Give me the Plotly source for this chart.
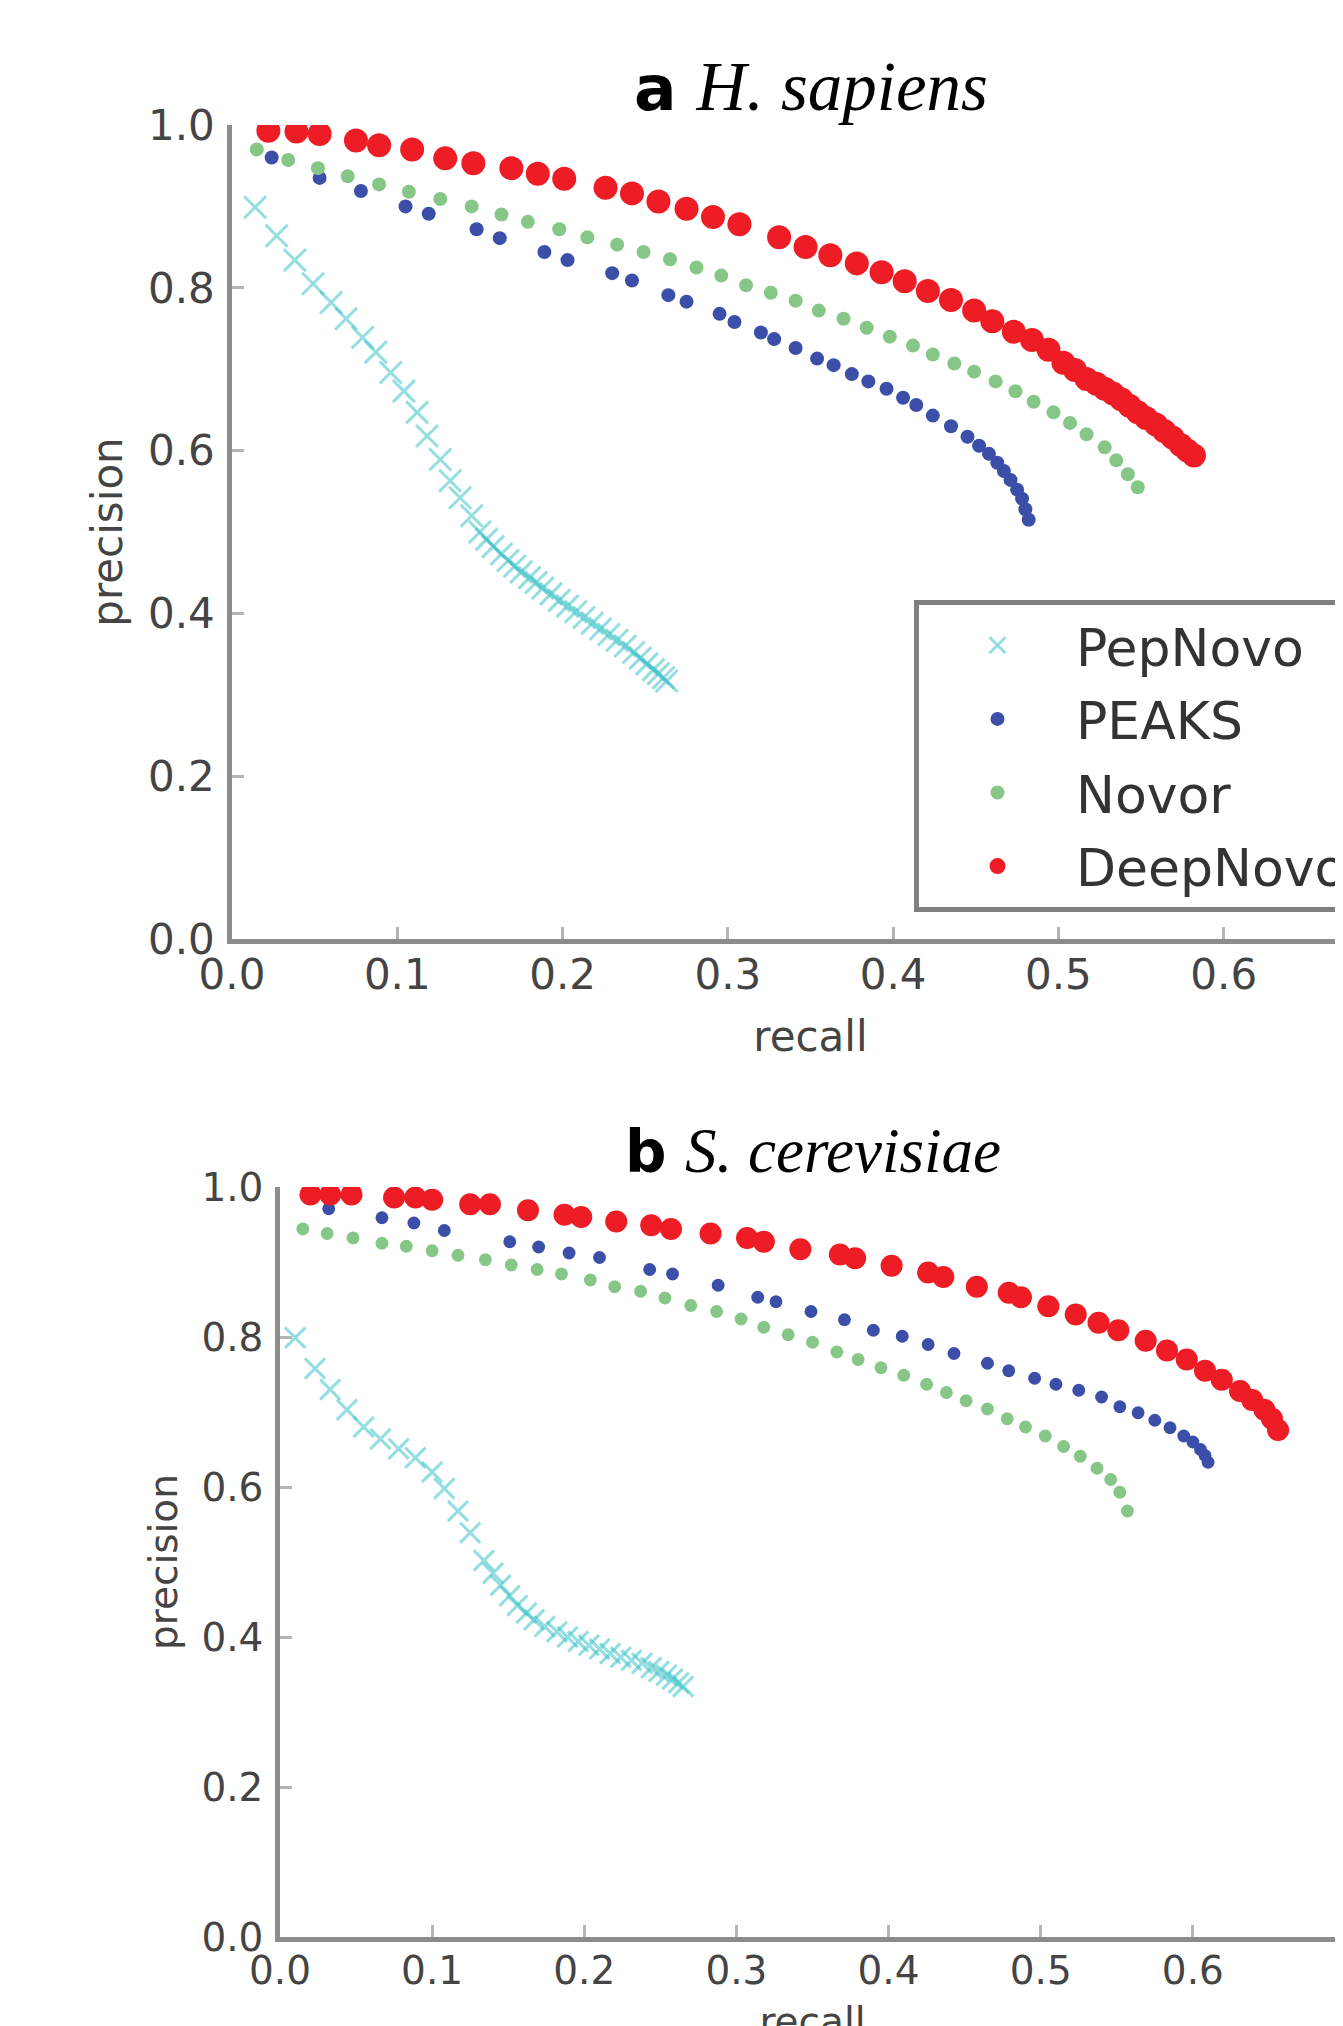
import plotly.graph_objects as go

# ---------------- data ----------------
series_names = ["PepNovo", "PEAKS", "Novor", "DeepNovo"]
panel_titles = ["<b>a</b> <i><span style='font-family:Liberation Serif;font-size:69px'>H. sapiens</span></i>",
                "<b>b</b> <i><span style='font-family:Liberation Serif;font-size:63px'>S. cerevisiae</span></i>"]
x_ticks = [0.0, 0.1, 0.2, 0.3, 0.4, 0.5, 0.6]
y_ticks = [0.0, 0.2, 0.4, 0.6, 0.8, 1.0]

# panel a  (H. sapiens)
a_pepnovo_recall = [0.014, 0.027, 0.038, 0.049, 0.060, 0.069, 0.079, 0.087, 0.096, 0.104, 0.112, 0.118,
                    0.126, 0.132, 0.138, 0.145, 0.150, 0.154, 0.158, 0.163, 0.167, 0.171, 0.175, 0.180,
                    0.184, 0.188, 0.193, 0.198, 0.203, 0.208, 0.213, 0.218, 0.223, 0.228, 0.233, 0.238,
                    0.243, 0.247, 0.251, 0.255, 0.258, 0.261, 0.263]
a_pepnovo_prec = [0.899, 0.864, 0.834, 0.805, 0.782, 0.762, 0.739, 0.721, 0.696, 0.673, 0.647, 0.618,
                  0.589, 0.563, 0.542, 0.520, 0.500, 0.491, 0.482, 0.473, 0.465, 0.458, 0.451, 0.444,
                  0.438, 0.431, 0.424, 0.416, 0.409, 0.402, 0.395, 0.388, 0.381, 0.374, 0.367, 0.360,
                  0.352, 0.345, 0.338, 0.331, 0.326, 0.321, 0.317]
a_peaks_recall = [0.024, 0.053, 0.078, 0.105, 0.119, 0.148, 0.162, 0.189, 0.203, 0.230, 0.242, 0.264,
                  0.275, 0.295, 0.304, 0.320, 0.328, 0.341, 0.354, 0.364, 0.375, 0.385, 0.396, 0.406,
                  0.414, 0.424, 0.435, 0.445, 0.452, 0.458, 0.463, 0.467, 0.471, 0.475, 0.478, 0.480, 0.482]
a_peaks_prec = [0.960, 0.935, 0.919, 0.900, 0.891, 0.872, 0.861, 0.844, 0.834, 0.818, 0.809, 0.791,
                0.783, 0.768, 0.758, 0.745, 0.737, 0.726, 0.713, 0.705, 0.694, 0.685, 0.676, 0.665,
                0.656, 0.643, 0.630, 0.617, 0.606, 0.596, 0.585, 0.575, 0.564, 0.552, 0.541, 0.528, 0.515]
a_novor_recall = [0.015, 0.034, 0.052, 0.070, 0.089, 0.107, 0.126, 0.145, 0.163, 0.179, 0.198, 0.215,
                  0.233, 0.249, 0.265, 0.281, 0.296, 0.311, 0.326, 0.341, 0.355, 0.370, 0.384, 0.398,
                  0.412, 0.424, 0.437, 0.449, 0.462, 0.474, 0.485, 0.497, 0.507, 0.517, 0.528, 0.535,
                  0.542, 0.548]
a_novor_prec = [0.970, 0.957, 0.947, 0.937, 0.927, 0.918, 0.909, 0.900, 0.890, 0.881, 0.872, 0.862,
                0.853, 0.844, 0.835, 0.825, 0.815, 0.803, 0.794, 0.784, 0.772, 0.762, 0.751, 0.740,
                0.729, 0.718, 0.707, 0.697, 0.685, 0.673, 0.660, 0.647, 0.634, 0.620, 0.604, 0.588,
                0.571, 0.555]
a_deepnovo_recall = [0.022, 0.039, 0.053, 0.075, 0.089, 0.109, 0.129, 0.146, 0.169, 0.185, 0.201, 0.226,
                     0.242, 0.258, 0.275, 0.291, 0.307, 0.331, 0.347, 0.362, 0.378, 0.393, 0.407, 0.421,
                     0.435, 0.449, 0.460, 0.473, 0.484, 0.494, 0.503, 0.510, 0.517, 0.523, 0.528, 0.533,
                     0.538, 0.543, 0.548, 0.553, 0.559, 0.564, 0.569, 0.574, 0.578, 0.582]
a_deepnovo_prec = [0.993, 0.992, 0.989, 0.981, 0.975, 0.970, 0.959, 0.953, 0.947, 0.940, 0.934, 0.923,
                   0.916, 0.906, 0.897, 0.887, 0.878, 0.862, 0.850, 0.840, 0.830, 0.819, 0.808, 0.796,
                   0.785, 0.772, 0.759, 0.746, 0.736, 0.724, 0.708, 0.699, 0.688, 0.682, 0.676, 0.670,
                   0.663, 0.655, 0.647, 0.640, 0.632, 0.624, 0.616, 0.607, 0.600, 0.594]

# panel b  (S. cerevisiae)
b_pepnovo_recall = [0.010, 0.023, 0.033, 0.044, 0.055, 0.066, 0.078, 0.089, 0.100, 0.108, 0.117, 0.125,
                    0.134, 0.140, 0.145, 0.151, 0.156, 0.162, 0.167, 0.174, 0.182, 0.189, 0.196, 0.203,
                    0.210, 0.217, 0.224, 0.231, 0.238, 0.244, 0.249, 0.254, 0.258, 0.262, 0.265]
b_pepnovo_prec = [0.799, 0.758, 0.730, 0.703, 0.680, 0.664, 0.651, 0.639, 0.620, 0.598, 0.568, 0.539,
                  0.502, 0.485, 0.469, 0.455, 0.442, 0.432, 0.423, 0.414, 0.407, 0.400, 0.394, 0.389,
                  0.384, 0.378, 0.373, 0.369, 0.365, 0.359, 0.354, 0.349, 0.344, 0.339, 0.334]
b_peaks_recall = [0.032, 0.067, 0.088, 0.108, 0.151, 0.170, 0.190, 0.210, 0.243, 0.258, 0.288, 0.314,
                  0.326, 0.349, 0.371, 0.390, 0.409, 0.426, 0.443, 0.465, 0.479, 0.496, 0.510, 0.525,
                  0.540, 0.552, 0.564, 0.575, 0.585, 0.594, 0.600, 0.605, 0.608, 0.610]
b_peaks_prec = [0.971, 0.959, 0.952, 0.942, 0.927, 0.920, 0.912, 0.906, 0.890, 0.884, 0.869, 0.853,
                0.847, 0.834, 0.823, 0.809, 0.801, 0.790, 0.778, 0.765, 0.755, 0.745, 0.737, 0.729,
                0.720, 0.707, 0.699, 0.689, 0.679, 0.668, 0.660, 0.650, 0.642, 0.633]
b_novor_recall = [0.015, 0.031, 0.048, 0.067, 0.083, 0.100, 0.117, 0.135, 0.152, 0.169, 0.185, 0.204,
                  0.220, 0.237, 0.253, 0.270, 0.287, 0.303, 0.318, 0.334, 0.350, 0.366, 0.380, 0.395,
                  0.410, 0.425, 0.438, 0.451, 0.465, 0.478, 0.490, 0.503, 0.515, 0.526, 0.537, 0.546,
                  0.552, 0.557]
b_novor_prec = [0.944, 0.938, 0.932, 0.925, 0.921, 0.915, 0.909, 0.903, 0.896, 0.890, 0.884, 0.876,
                0.867, 0.861, 0.852, 0.842, 0.834, 0.824, 0.813, 0.803, 0.793, 0.780, 0.770, 0.759,
                0.749, 0.737, 0.726, 0.715, 0.704, 0.691, 0.680, 0.668, 0.654, 0.641, 0.625, 0.610,
                0.593, 0.568]
b_deepnovo_recall = [0.020, 0.033, 0.047, 0.075, 0.089, 0.100, 0.125, 0.138, 0.163, 0.187, 0.198, 0.221,
                     0.244, 0.257, 0.283, 0.307, 0.318, 0.342, 0.368, 0.378, 0.402, 0.426, 0.436, 0.458,
                     0.479, 0.487, 0.505, 0.523, 0.538, 0.551, 0.569, 0.583, 0.596, 0.608, 0.619, 0.631,
                     0.639, 0.647, 0.652, 0.656]
b_deepnovo_prec = [0.990, 0.990, 0.990, 0.986, 0.986, 0.983, 0.977, 0.977, 0.969, 0.963, 0.960, 0.954,
                   0.949, 0.944, 0.938, 0.932, 0.927, 0.917, 0.910, 0.905, 0.895, 0.886, 0.880, 0.867,
                   0.859, 0.853, 0.841, 0.830, 0.819, 0.809, 0.795, 0.782, 0.770, 0.755, 0.743, 0.728,
                   0.716, 0.703, 0.691, 0.676]

panels = [
    [(a_pepnovo_recall, a_pepnovo_prec), (a_peaks_recall, a_peaks_prec),
     (a_novor_recall, a_novor_prec), (a_deepnovo_recall, a_deepnovo_prec)],
    [(b_pepnovo_recall, b_pepnovo_prec), (b_peaks_recall, b_peaks_prec),
     (b_novor_recall, b_novor_prec), (b_deepnovo_recall, b_deepnovo_prec)],
]

# ---------------- styles ----------------
W, H = 1420, 2080
OFF = 8  # default body margin of the html page

def marker_styles(scale):
    return [
        dict(symbol="x-thin-open", size=22 * scale, color="rgba(60,195,200,0.55)",
             line=dict(width=3, color="rgba(60,195,200,0.55)")),
        dict(symbol="circle", size=14 * scale, color="#3b4fa8", line=dict(width=0)),
        dict(symbol="circle", size=14 * scale, color="#86c686", line=dict(width=0)),
        dict(symbol="circle", size=24 * scale, color="#ee1c24", line=dict(width=0)),
    ]

panel_scale = [1.0, 0.92]

fig = go.Figure()
for p, panel in enumerate(panels):
    xa = "x" if p == 0 else "x2"
    ya = "y" if p == 0 else "y2"
    ms = marker_styles(panel_scale[p])
    for i, (rx, py) in enumerate(panel):
        fig.add_trace(go.Scatter(
            x=rx, y=py, mode="markers", name=series_names[i],
            marker=ms[i], xaxis=xa, yaxis=ya,
            showlegend=(p == 0), legendgroup=series_names[i],
        ))


def axis_style(fs, labstand):
    return dict(
        showline=True, linecolor="#8c8c8c", linewidth=4.5, mirror=False,
        ticks="inside", ticklen=12, tickwidth=3, tickcolor="#b4b4b4",
        showgrid=False, zeroline=False, tickformat=".1f", automargin=False,
        tickfont=dict(family="DejaVu Sans", size=fs, color="#444444"),
        ticklabelstandoff=labstand,
    )


def tfont(fs):
    return dict(family="DejaVu Sans", size=fs, color="#444444")


def px_x(v):
    return (v - OFF) / W


def px_y(v):
    return (H - (v - OFF)) / H


fig.update_layout(
    template="none",
    width=W, height=H,
    margin=dict(l=0, r=0, t=0, b=0, autoexpand=False),
    paper_bgcolor="white", plot_bgcolor="white",
    xaxis=dict(axis_style(42, -5), domain=[px_x(232), px_x(1389)], range=[0, 0.7], tickvals=x_ticks,
               anchor="y", title=dict(text="recall", font=tfont(42), standoff=25)),
    yaxis=dict(axis_style(42, 4), domain=[px_y(939), px_y(125)], range=[0, 1.0], tickvals=y_ticks,
               anchor="x", title=dict(text="precision", font=tfont(42), standoff=14)),
    xaxis2=dict(axis_style(39, -5), domain=[px_x(280), px_x(1345)], range=[0, 0.7], tickvals=x_ticks,
                anchor="y2", title=dict(text="recall", font=tfont(39), standoff=18)),
    yaxis2=dict(axis_style(39, 4), domain=[px_y(1937), px_y(1187)], range=[0, 1.0], tickvals=y_ticks,
                anchor="x2", title=dict(text="precision", font=tfont(39), standoff=13)),
    legend=dict(
        x=px_x(914), y=px_y(600), xanchor="left", yanchor="top",
        bgcolor="white", bordercolor="#808080", borderwidth=5,
        font=dict(family="DejaVu Sans", size=52, color="#333333"),
        itemwidth=147, tracegroupgap=3, traceorder="grouped",
    ),
    annotations=[
        dict(text=panel_titles[0], x=px_x(811), y=px_y(87), xref="paper", yref="paper",
             xanchor="center", yanchor="middle", showarrow=False,
             font=dict(family="DejaVu Sans", size=63, color="black")),
        dict(text=panel_titles[1], x=px_x(813), y=px_y(1151), xref="paper", yref="paper",
             xanchor="center", yanchor="middle", showarrow=False,
             font=dict(family="DejaVu Sans", size=58, color="black")),
    ],
)

fig.write_html("out.html")
